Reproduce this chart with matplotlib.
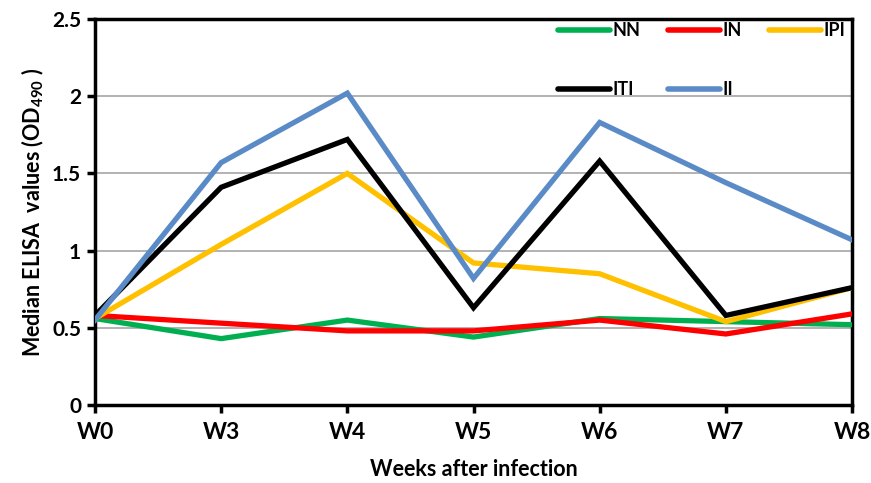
import matplotlib
matplotlib.use("Agg")
import matplotlib.pyplot as plt

weeks = ["W0", "W3", "W4", "W5", "W6", "W7", "W8"]
NN = [0.56, 0.43, 0.55, 0.44, 0.56, 0.54, 0.52]
IN = [0.58, 0.53, 0.48, 0.48, 0.55, 0.46, 0.59]
IPI = [0.56, 1.04, 1.50, 0.92, 0.85, 0.54, 0.76]
ITI = [0.58, 1.41, 1.72, 0.63, 1.58, 0.58, 0.76]
II = [0.55, 1.57, 2.02, 0.82, 1.83, 1.44, 1.07]

series = [("NN", NN, "#00B050"), ("IN", IN, "#FF0000"), ("IPI", IPI, "#FFC000"),
          ("ITI", ITI, "#000000"), ("II", II, "#5B8BC7")]

plt.rcParams['font.family'] = ['Lato', 'DejaVu Sans']
plt.rcParams['mathtext.fontset'] = 'custom'
plt.rcParams['mathtext.bf'] = 'Lato:bold'
plt.rcParams['mathtext.rm'] = 'Lato'

fig = plt.figure(figsize=(8.71, 4.83), dpi=100)
ax = fig.add_axes([95/871, 1-405/483, (852-95)/871, (405-19)/483])

x = list(range(len(weeks)))
lines = {}
for name, vals, col in series:
    ln, = ax.plot(x, vals, color=col, lw=3.8, label=name, solid_joinstyle='miter', zorder=3)
    lines[name] = ln

ax.set_xlim(0, len(weeks)-1)
ax.set_ylim(0, 2.5)
ax.set_xticks(x)
ax.set_xticklabels(weeks, fontsize=16.5, fontweight='bold')
ax.set_yticks([0, 0.5, 1, 1.5, 2, 2.5])
ax.set_yticklabels(["0", "0.5", "1", "1.5", "2", "2.5"], fontsize=15, fontweight='bold')
ax.yaxis.grid(True, color='#a6a6a6', lw=1.2, zorder=0)
ax.set_axisbelow(True)
for s in ax.spines.values():
    s.set_linewidth(2.5)
    s.set_color('black')
ax.tick_params(axis='both', direction='out', length=6, width=2.5, colors='black')
ax.tick_params(axis='x', pad=6)
ax.tick_params(axis='y', pad=4)

ax.set_xlabel("Weeks after infection", fontsize=15.5, fontweight='bold', labelpad=12)
ax.set_ylabel(r"Median ELISA  values (OD$_{\mathbf{490}}$ )", fontsize=15.5, fontweight='bold', labelpad=4)

order = ["NN", "ITI", "IN", "II", "IPI"]
leg = ax.legend([lines[n] for n in order], order, ncol=3, loc='upper right',
                bbox_to_anchor=((845-95)/757, (405-22)/386), frameon=False,
                handlelength=2.9, handletextpad=0.12, columnspacing=1.5, labelspacing=2.35,
                prop={'weight': 'bold', 'size': 13}, borderaxespad=0, borderpad=0)
for h in leg.get_lines():
    h.set_linewidth(4)
    h.set_solid_capstyle('round')

fig.savefig("out.png", dpi=100)
